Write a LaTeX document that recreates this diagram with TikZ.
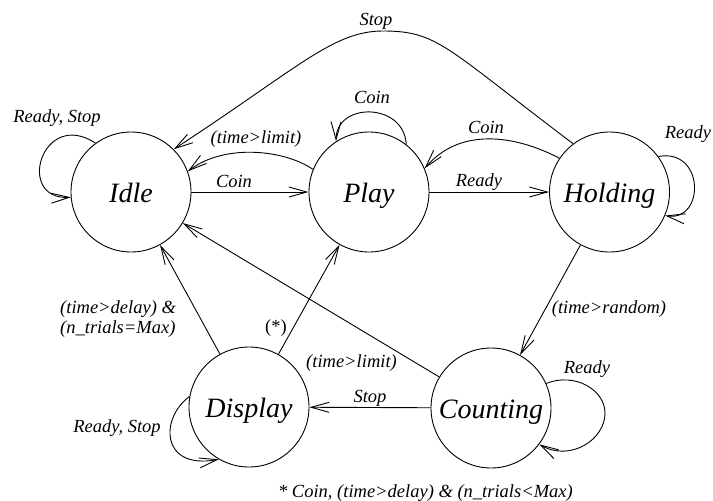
\documentclass[tikz,border=0pt]{standalone}
\usepackage{fontspec}
\setmainfont{Liberation Serif}
\usetikzlibrary{arrows.meta}
\begin{document}
\begin{tikzpicture}[x=1pt,y=-1pt,
  state/.style={draw, circle, minimum size=120pt, inner sep=0pt, line width=0.9pt,
    font=\fontsize{28}{30}\selectfont\itshape, text height=26pt, text depth=6pt},
  tr/.style={draw, line width=0.9pt, -{Straight Barb[length=18pt,width=10pt,line width=0.9pt]}},
  lab/.style={font=\fontsize{18.5}{20}\selectfont\itshape, anchor=base, inner sep=0pt},
]
\useasboundingbox (0,0) rectangle (713,501);

% states
\node[state] (Idle) at (131,192) {Idle};
\node[state] (Play) at (369,192) {Play};
\node[state] (Holding) at (609.5,192) {Holding};
\node[state] (Display) at (249,407) {Display};
\node[state] (Counting) at (491,408) {Counting};

% straight transitions
\draw[tr] (Idle) -- (Play);
\draw[tr] (Play) -- (Holding);
\draw[tr] (Holding) -- (Counting);
\draw[tr] (Counting) -- (Display);
\draw[tr] (Counting) -- (Idle);
\draw[tr] (Display) -- (Idle);
\draw[tr] (Display) -- (Play);

% curved transitions
\draw[tr] (Play.158) .. controls (285,150) and (225,143) .. (Idle.20);
\draw[tr] (Holding.146) .. controls (515,135) and (460,127) .. (Play.23);
\draw[tr] (Holding.127) .. controls (445.7,47.6) and (438,31) .. (383,31)
          .. controls (333,31) and (298.6,67.8) .. (Idle.45);

% self loops
\draw[tr] (Idle.126) .. controls (42,108) and (15,200) .. (Idle.185);
\draw[tr] (Play.52) .. controls (404,102) and (336,102) .. (Play.123);
\draw[tr] (Holding.36) .. controls (705,148) and (705,222) .. (Holding.-23);
\draw[tr] (Counting.24) .. controls (575,372) and (605,390) .. (605,413)
          .. controls (605,440) and (570,462) .. (Counting.-37);
\draw[tr] (Display.170) .. controls (160,418) and (160,470) .. (Display.240);

% labels
\node[lab] (lIdleLoop) at (57,122) {Ready, Stop};
\node[lab] (lPlayIdle) at (256,143) {(time>limit)};
\node[lab] (lIdlePlay) at (234,187) {Coin};
\node[lab] (lPlayLoop) at (372,103) {Coin};
\node[lab] (lPlayHold) at (479,186) {Ready};
\node[lab] (lHoldPlay) at (486,133) {Coin};
\node[lab] (lHoldLoop) at (688,138) {Ready};
\node[lab] (lHoldIdle) at (376,25) {Stop};
\node[lab] (lHoldCount) at (609,313) {(time>random)};
\node[lab, anchor=north west, align=left] (lDispIdle) at (60,300)
  {(time>delay) \&\\(n\_trials=Max)};
\node[lab, font=\fontsize{18.5}{20}\selectfont\upshape] (lDispPlay) at (276,332) {(*)};
\node[lab] (lCountIdle) at (351.5,367) {(time>limit)};
\node[lab] (lCountDisp) at (370,402.5) {Stop};
\node[lab] (lCountLoop) at (587,373) {Ready};
\node[lab] (lDispLoop) at (117,432.5) {Ready, Stop};
\node[lab, anchor=base east] (foot) at (573,497) {* Coin, (time>delay) \& (n\_trials<Max)};
\end{tikzpicture}
\end{document}
